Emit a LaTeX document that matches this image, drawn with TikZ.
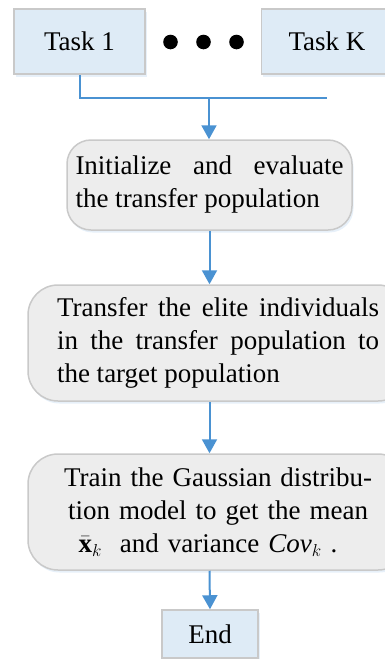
\documentclass[tikz,border=0pt]{standalone}
\usepackage{fontspec}
\setmainfont{Liberation Serif}
\usetikzlibrary{arrows.meta,shadows}
\definecolor{taskblue}{HTML}{DEEBF6}
\definecolor{stagegray}{HTML}{EDEDED}
\definecolor{edgegray}{HTML}{C9C9C9}
\definecolor{flowblue}{HTML}{4A92D2}
\newcommand{\fullline}[2]{\makebox[#1][s]{#2}}
\tikzset{
  glow/.style={drop shadow={shadow xshift=1.5pt,shadow yshift=-2.5pt,fill=flowblue!30,opacity=0.45}},
  task/.style={draw=edgegray,line width=1.5pt,fill=taskblue,inner sep=0pt,glow},
  stage/.style={draw=edgegray,line width=1.5pt,fill=stagegray,inner sep=0pt,glow},
  flow/.style={flowblue,line width=2pt,-{Triangle[width=15pt,length=14pt]}},
  link/.style={flowblue,line width=2pt},
}
\begin{document}
\begin{tikzpicture}[x=1pt,y=-1pt,font=\fontsize{27}{33}\selectfont]
  \useasboundingbox (0,0) rectangle (384,659);

  \node[task,minimum width=131pt,minimum height=65pt] (task1) at (79.5,41.5) {Task 1};
  \node[task,minimum width=131pt,minimum height=65pt] (taskK) at (327,41.5) {Task K};
  \foreach \x in {170.5,203.5,236.5}
    \fill (\x,42) circle (7.3pt);
  \coordinate (merge) at (209,98);

  \node[stage,rounded corners=24pt,minimum width=285pt,minimum height=90pt,
        text width=268pt,align=justify] (init) at (209.5,185)
    {\fullline{268pt}{Initialize and evaluate}\\the transfer population};
  \node[stage,rounded corners=30pt,minimum width=380pt,minimum height=116pt,
        text width=322pt,align=justify] (transfer) at (218,343)
    {\fullline{322pt}{Transfer the elite individuals}\\
     \fullline{322pt}{in the transfer population to}\\
     the target population};
  \node[stage,rounded corners=30pt,minimum width=380pt,minimum height=116pt,
        text width=330pt,align=center] (train) at (218,512)
    {Train the Gaussian distribu-\\tion model to get the mean\\
     $\bar{\mathbf{x}}_k$ \ and variance \textit{Cov}$_k$ .\kern20pt};
  \node[task,minimum width=96pt,minimum height=48pt] (finish) at (210,634) {End};

  \draw[link] (task1.south) -- (task1.south |- merge) -- (taskK.south |- merge);
  \draw[flow] (merge) -- (merge |- init.north);
  \draw[flow] (init.south) -- (init.south |- transfer.north);
  \draw[flow] (init.south |- transfer.south) -- (init.south |- train.north);
  \draw[flow] (init.south |- train.south) -- (finish.north);
\end{tikzpicture}
\end{document}
